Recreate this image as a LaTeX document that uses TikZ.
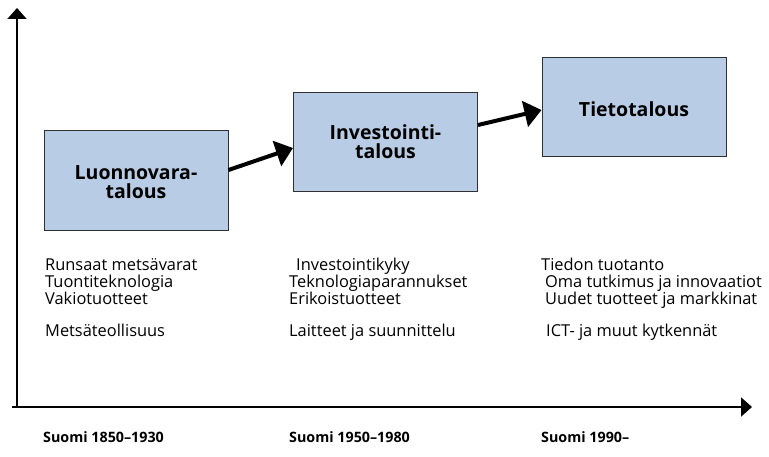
\documentclass[tikz,border=0pt]{standalone}
\usepackage{fontspec}
\setmainfont{Open Sans}
\usetikzlibrary{arrows.meta}
\definecolor{boxblue}{HTML}{B9CCE5}
\definecolor{boxline}{HTML}{303030}
\begin{document}
\begin{tikzpicture}[x=1pt,y=-1pt,
  stage/.style={draw=boxline,line width=1pt,fill=boxblue,minimum width=184pt,minimum height=100pt,inner sep=0pt},
  title/.style={anchor=base,font=\fontsize{19.5}{19}\selectfont\bfseries,inner sep=0pt},
  info/.style={anchor=base west,font=\fontsize{16.4}{17}\selectfont,inner sep=0pt},
  era/.style={anchor=base west,font=\fontsize{14.3}{16}\selectfont\bfseries,inner sep=0pt},
  axis/.style={line width=2pt,-{Triangle[length=11pt,width=19pt]}},
  flow/.style={line width=4pt,-{Triangle[length=17pt,width=26pt]}}]
\useasboundingbox (0,0) rectangle (769,457);
% axes
\coordinate (o) at (17,407);
\coordinate (ytop) at (17,8);
\coordinate (xs) at (12,407);
\coordinate (xend) at (752,407);
\draw[axis] (o) -- (ytop);
\draw[axis] (xs) -- (xend);
% stages
\node[stage] (a) at (136,181) {};
\node[stage,minimum height=99pt] (b) at (385.5,142.5) {};
\node[stage,minimum height=99pt] (c) at (634,107.5) {};
\node[title] (a1) at (136,180) {Luonnovara-};
\node[title] (a2) at (136,199) {talous};
\node[title] (b1) at (385.5,140) {Investointi-};
\node[title] (b2) at (385.5,159) {talous};
\node[title] (c1) at (634,117) {Tietotalous};
\draw[flow] (a.east |- 0,170) -- (b.west |- 0,148);
\draw[flow] (b.east |- 0,125) -- (c.west |- 0,110);
% info text
\node[info] (t11) at (45,271) {Runsaat metsävarat};
\node[info] (t12) at (45,288) {Tuontiteknologia};
\node[info] (t13) at (45,305) {Vakiotuotteet};
\node[info] (t14) at (45,337) {Metsäteollisuus};
\node[info] (t21) at (296,271) {Investointikyky};
\node[info] (t22) at (289,288) {Teknologiaparannukset};
\node[info] (t23) at (289,305) {Erikoistuotteet};
\node[info] (t24) at (289,337) {Laitteet ja suunnittelu};
\node[info] (t31) at (541,271) {Tiedon tuotanto};
\node[info] (t32) at (545,288) {Oma tutkimus ja innovaatiot};
\node[info] (t33) at (545,305) {Uudet tuotteet ja markkinat};
\node[info] (t34) at (546,337) {ICT- ja muut kytkennät};
% eras
\node[era] (e1) at (43,442) {Suomi 1850–1930};
\node[era] (e2) at (289,442) {Suomi 1950–1980};
\node[era] (e3) at (541,442) {Suomi 1990–};
\end{tikzpicture}
\end{document}
